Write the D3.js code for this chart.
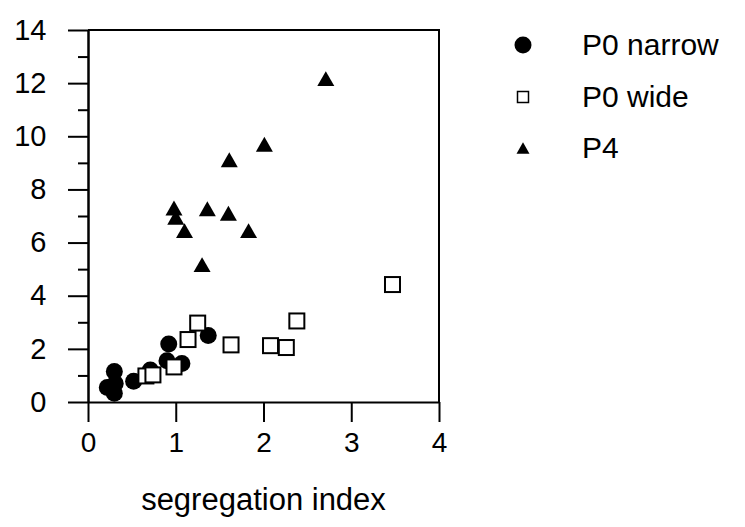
<!DOCTYPE html>
<html>
<head>
<meta charset="utf-8">
<script src="https://cdn.jsdelivr.net/npm/d3@7"></script>
<style>
  body { margin: 0; background: #fff; }
  text { font-family: "Liberation Sans", Arial, sans-serif; fill: #000; }
</style>
</head>
<body>
<div id="scatter"></div>
<script>
// data
var narrowX = [0.22, 0.30, 0.31, 0.30, 0.52, 0.71, 0.90, 0.92, 1.07, 1.37];
var narrowY = [0.55, 1.15, 0.70, 0.33, 0.78, 1.20, 1.55, 2.18, 1.45, 2.50];
var wideX = [0.66, 0.74, 0.98, 1.14, 1.25, 1.63, 2.08, 2.26, 2.38, 3.47];
var wideY = [0.98, 1.02, 1.32, 2.35, 2.97, 2.15, 2.12, 2.05, 3.05, 4.42];
var p4X = [0.98, 1.00, 1.10, 1.30, 1.36, 1.60, 1.61, 1.83, 2.01, 2.71];
var p4Y = [7.30, 6.95, 6.45, 5.17, 7.27, 7.10, 9.12, 6.45, 9.70, 12.17];

var seriesNames = ["P0 narrow", "P0 wide", "P4"];
var xTicks = [0, 1, 2, 3, 4];
var yTicks = [0, 2, 4, 6, 8, 10, 12, 14];
var yMinorTicks = [1, 3, 5, 7, 9, 11, 13];
var xTitle = "segregation index";

// svg area
var svgWidth = 745;
var svgHeight = 527;

var chartMargins = { top: 30, left: 88, right: 306, bottom: 125 };
var chartWidth = svgWidth - chartMargins.left - chartMargins.right;
var chartHeight = svgHeight - chartMargins.top - chartMargins.bottom;

var svg = d3.select("#scatter")
  .append("svg")
  .attr("width", svgWidth)
  .attr("height", svgHeight);

var chartGroup = svg.append("g")
  .attr("transform", `translate(${chartMargins.left}, ${chartMargins.top})`);

var xScale = d3.scaleLinear().domain([0, 4]).range([0, chartWidth]);
var yScale = d3.scaleLinear().domain([0, 14]).range([chartHeight, 0]);

// triangle centred on its bounding box
function triangle(w) {
  var h = w * 0.88;
  var p = d3.path();
  p.moveTo(0, -h / 2);
  p.lineTo(w / 2, h / 2);
  p.lineTo(-w / 2, h / 2);
  p.closePath();
  return p.toString();
}

function zip(xs, ys) {
  return xs.map((x, i) => ({ x: x, y: ys[i] }));
}

// frame (top and right)
chartGroup.append("path")
  .attr("d", `M0,0H${chartWidth}V${chartHeight}`)
  .attr("fill", "none")
  .attr("stroke", "#000")
  .attr("stroke-width", 2);

// axes
var leftAxis = d3.axisLeft(yScale).tickValues(yTicks).tickFormat(d3.format("d"))
  .tickSize(20).tickSizeOuter(0).tickPadding(21.5);
var leftMinor = d3.axisLeft(yScale).tickValues(yMinorTicks).tickSize(10).tickSizeOuter(0).tickFormat("");
var bottomAxis = d3.axisBottom(xScale).tickValues(xTicks).tickFormat(d3.format("d"))
  .tickSize(20).tickSizeOuter(0).tickPadding(10);

var yAxisG = chartGroup.append("g").call(leftAxis);
chartGroup.append("g").call(leftMinor);
var xAxisG = chartGroup.append("g")
  .attr("transform", `translate(0, ${chartHeight})`)
  .call(bottomAxis);

chartGroup.selectAll(".domain, .tick line")
  .attr("stroke", "#000")
  .attr("stroke-width", 2);

yAxisG.selectAll("text").style("font-size", "29px").attr("fill", "#000");
xAxisG.selectAll("text").style("font-size", "28px").attr("fill", "#000");

// points: circles, then squares, then triangles
chartGroup.selectAll(".narrow")
  .data(zip(narrowX, narrowY))
  .enter()
  .append("circle")
  .attr("class", "narrow")
  .attr("cx", d => xScale(d.x))
  .attr("cy", d => yScale(d.y))
  .attr("r", 8.5)
  .attr("fill", "#000");

chartGroup.selectAll(".wide")
  .data(zip(wideX, wideY))
  .enter()
  .append("rect")
  .attr("class", "wide")
  .attr("x", d => xScale(d.x) - 7.5)
  .attr("y", d => yScale(d.y) - 7.5)
  .attr("width", 15)
  .attr("height", 15)
  .attr("fill", "#fff")
  .attr("stroke", "#000")
  .attr("stroke-width", 2);

chartGroup.selectAll(".p4")
  .data(zip(p4X, p4Y))
  .enter()
  .append("path")
  .attr("class", "p4")
  .attr("transform", d => `translate(${xScale(d.x)}, ${yScale(d.y)})`)
  .attr("d", triangle(17))
  .attr("fill", "#000");

// axis title
svg.append("text")
  .attr("x", chartMargins.left + chartWidth / 2)
  .attr("y", 510)
  .attr("text-anchor", "middle")
  .style("font-size", "31px")
  .text(xTitle);

// legend
var legend = svg.append("g").attr("transform", "translate(523, 0)");
var legendY = [45, 97, 148];

legend.append("circle").attr("cx", 0).attr("cy", legendY[0]).attr("r", 8.5).attr("fill", "#000");
legend.append("rect")
  .attr("x", -5.5).attr("y", legendY[1] - 5.5)
  .attr("width", 11).attr("height", 11)
  .attr("fill", "#fff").attr("stroke", "#000").attr("stroke-width", 1.5);
legend.append("path")
  .attr("transform", `translate(0, ${legendY[2]})`)
  .attr("d", triangle(13))
  .attr("fill", "#000");

legend.selectAll(".legendText")
  .data(seriesNames)
  .enter()
  .append("text")
  .attr("class", "legendText")
  .attr("x", 59)
  .attr("y", (d, i) => legendY[i] + 10)
  .style("font-size", "30px")
  .text(d => d);
</script>
</body>
</html>
